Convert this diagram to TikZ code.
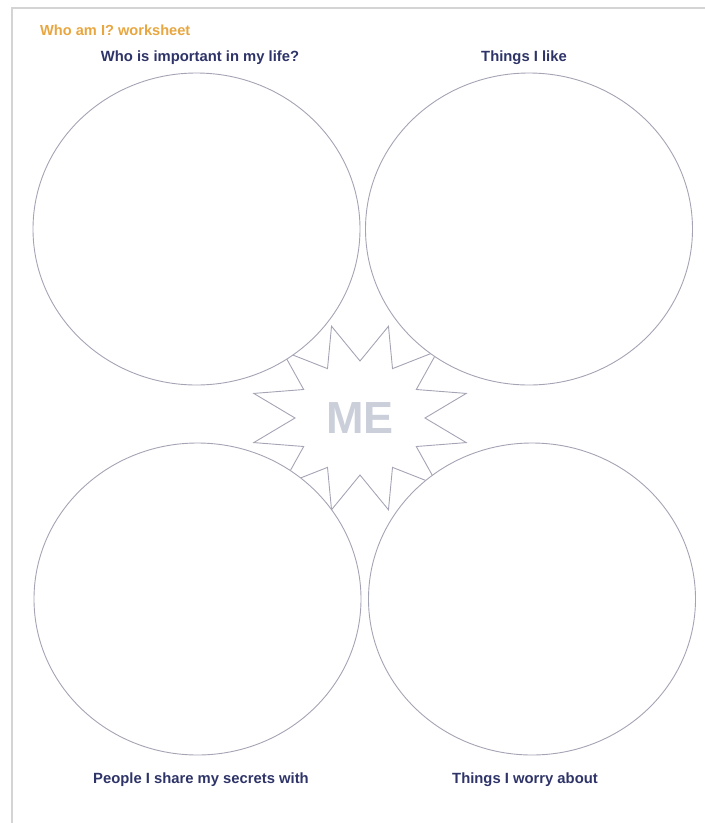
\documentclass[tikz,border=0pt]{standalone}
\usepackage{fontspec}
\setmainfont{Liberation Sans}
\usetikzlibrary{shapes.geometric}
\usetikzlibrary{positioning}
\definecolor{sheetorange}{HTML}{E8A640}
\definecolor{sheetnavy}{HTML}{2E3468}
\definecolor{bubblegray}{HTML}{A4A4B4}
\definecolor{megray}{HTML}{CACFDA}
\definecolor{framegray}{HTML}{D4D4D4}
\tikzset{
sheet_title/.style={inner sep=0pt, text=sheetorange, font=\bfseries\fontsize{14.6}{16}\selectfont},
bubble_label/.style={inner sep=0pt, text=sheetnavy, font=\bfseries\fontsize{14.8}{16}\selectfont},
bubble/.style={ellipse, draw=bubblegray, line width=0.9pt, fill=white, minimum width=327pt, minimum height=312pt, inner sep=0pt},
me_star/.style={draw=bubblegray, line width=0.9pt, line join=miter},
me_text/.style={inner sep=0pt, text=megray, font=\bfseries\fontsize{45}{47}\selectfont},
frame_line/.style={draw=framegray, line width=1.6pt}
}

\begin{document}
\begin{tikzpicture}[x=1pt, y=-1pt]
    \useasboundingbox (0,0) rectangle (705,823);
    \draw[frame_line] (705,8) -- (12,8) -- (12,823);

    \node[sheet_title, anchor=west] (title) at (40,30) {Who am I? worksheet};

    % star behind the bubbles
    \coordinate (me_center) at (360,418);
    \begin{scope}[shift={(me_center)}]
        \draw[me_star] (0:65 and 57) \foreach \a in {15,45,...,345} { -- (\a:110 and 95) -- (\a+15:65 and 57) } -- cycle;
    \end{scope}
    \node[me_text] (me) at (me_center) {ME};

    \node[bubble] (tl) at (196.5,229) {};
    \node[bubble] (tr) at (529,229) {};
    \node[bubble] (bl) at (197.5,599) {};
    \node[bubble] (br) at (532,599) {};

    \node[bubble_label] (tl_label) [above=8pt of tl, xshift=3.5pt] {Who is important in my life?};
    \node[bubble_label] (tr_label) [above=8pt of tr, xshift=-5pt] {Things I like};
    \node[bubble_label] (bl_label) [below=17pt of bl, xshift=3.5pt] {People I share my secrets with};
    \node[bubble_label] (br_label) [below=17pt of br, xshift=-7pt] {Things I worry about};
\end{tikzpicture}
\end{document}
